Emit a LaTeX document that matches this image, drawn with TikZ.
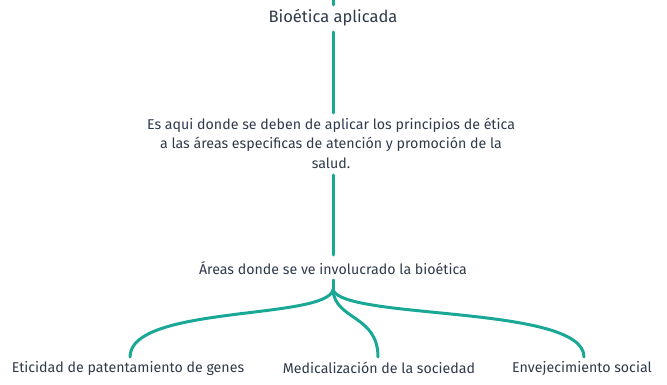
\documentclass[tikz,border=0pt]{standalone}
\usepackage{fontspec}
\setmainfont{Fira Sans}
\usepackage{xcolor}
\definecolor{mapteal}{RGB}{26,168,150}
\definecolor{mapink}{RGB}{47,58,74}

\begin{document}
\begin{tikzpicture}[x=1pt, y=-1pt]
    \useasboundingbox (0,0) rectangle (667,385);
    % Concept nodes
    \node[mapink, font=\fontsize{16.5}{18}\selectfont] (title) at (333,18) {Bioética aplicada};
    \node[mapink, font=\fontsize{14.2}{19.5}\selectfont, align=center] (desc) at (331,143)
        {Es aqui donde se deben de aplicar los principios de ética\\a las áreas especificas de atención y promoción de la\\salud.};
    \node[mapink, font=\fontsize{14.2}{16}\selectfont] (areas) at (333,268) {Áreas donde se ve involucrado la bioética};
    \node[mapink, font=\fontsize{14.2}{16}\selectfont] (genes) at (128,368) {Eticidad de patentamiento de genes};
    \node[mapink, font=\fontsize{14.2}{16}\selectfont] (medic) at (379,368) {Medicalización de la sociedad};
    \node[mapink, font=\fontsize{14.2}{16}\selectfont] (aging) at (582,368) {Envejecimiento social};
    \coordinate (top) at (333,0);
    \coordinate (split) at (333,290);

    % Connectors
    \draw[mapteal, line width=3pt, line cap=round] (top) -- (333,5);
    \draw[mapteal, line width=3pt, line cap=round] (333,32) -- (333,113);
    \draw[mapteal, line width=3pt, line cap=round] (333,175) -- (333,255);
    \draw[mapteal, line width=3pt, line cap=round] (333,280) -- (split);
    \draw[mapteal, line width=3pt, line cap=round] (split) .. controls (325,320) and (130,305) .. (130,357);
    \draw[mapteal, line width=3pt, line cap=round] (split) .. controls (335,320) and (378,315) .. (378,357);
    \draw[mapteal, line width=3pt, line cap=round] (split) .. controls (345,320) and (584,305) .. (584,357);
\end{tikzpicture}
\end{document}
